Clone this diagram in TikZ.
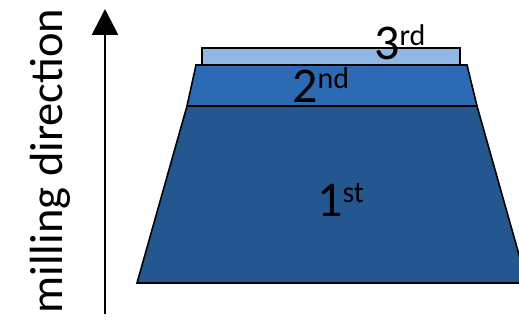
\documentclass[tikz,border=0pt]{standalone}
\usepackage{fontspec}
\setmainfont{Carlito}
\usetikzlibrary{arrows.meta}

\definecolor{firstblue}{HTML}{245690}
\definecolor{secondblue}{HTML}{2C6BB3}
\definecolor{thirdblue}{HTML}{93B7E4}

\tikzset{
    layer/.style={draw=black, line width=1.6pt, line join=miter},
    layerlabel/.style={anchor=base west, inner sep=0pt, font=\fontsize{50}{50}\selectfont},
}
\newcommand{\ordinal}[2]{#1\raisebox{14pt}{\fontsize{30}{30}\selectfont #2}}

\begin{document}
\begin{tikzpicture}[x=1pt, y=-1pt]
    \useasboundingbox (0,0) rectangle (519,320);
    \clip (0,0) rectangle (519,320);

    % Schichten, von unten nach oben
    \filldraw[layer, fill=firstblue] (137,283) -- (187,106) -- (477,106) -- (527,283) -- cycle;
    \filldraw[layer, fill=secondblue] (187,106) -- (196,65) -- (467,65) -- (477,106) -- cycle;
    \filldraw[layer, fill=thirdblue] (202,65) rectangle (460,48);

    % Beschriftungen
    \node[layerlabel] (first) at (317,217) {\ordinal{1}{st}};
    \node[layerlabel] (second) at (292,103) {\ordinal{2}{nd}};
    \node[layerlabel] (third) at (374,60) {\ordinal{3}{rd}};

    % Fraesrichtung
    \coordinate (arrowstart) at (105,314);
    \coordinate (arrowend) at (105,9);
    \draw[line width=2.8pt, -{Triangle[width=26pt, length=26pt]}] (arrowstart) -- (arrowend);
    \node[rotate=90, anchor=base, inner sep=0pt, font=\fontsize{46.5}{46.5}\selectfont] (direction) at (62,161) {milling direction};
\end{tikzpicture}
\end{document}
